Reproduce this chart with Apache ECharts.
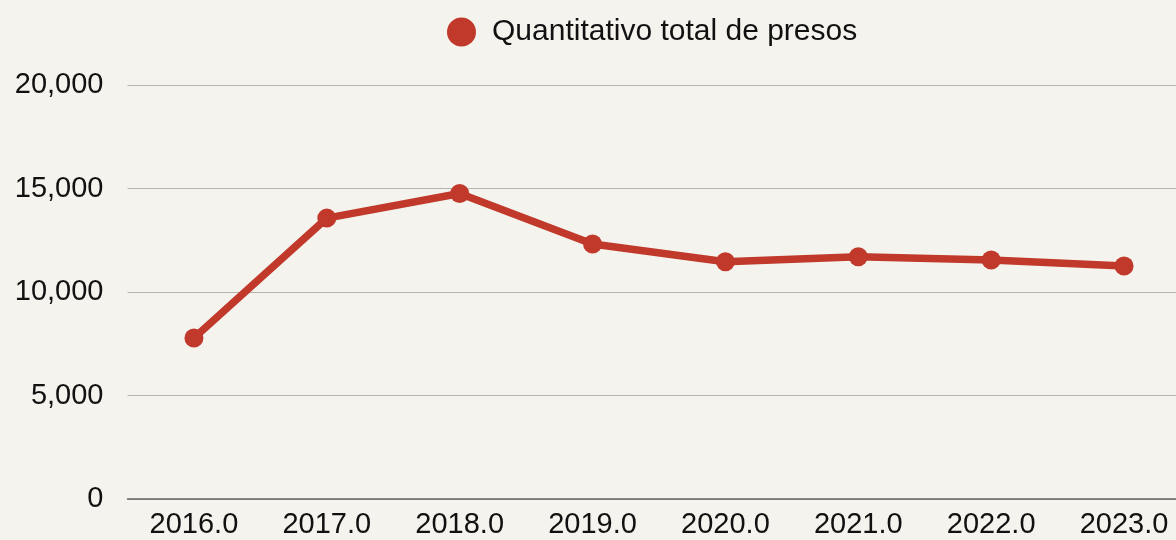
<!DOCTYPE html>
<html>
<head>
<meta charset="utf-8">
<script src="https://cdn.jsdelivr.net/npm/echarts@6/dist/echarts.min.js"></script>
<style>
    html, body {
        margin: 0;
        padding: 0;
        background: #f5f3ee;
        overflow: hidden;
    }
    /* o eixo passa um pouco da borda direita, como no original */
    #chart {
        width: 1191px;
        height: 540px;
    }
</style>
</head>
<body>
<div id="chart"></div>
<script>
// dados
const anos = ["2016.0", "2017.0", "2018.0", "2019.0", "2020.0", "2021.0", "2022.0", "2023.0"];
const totalPresos = [7780, 13570, 14760, 12320, 11460, 11700, 11550, 11260];
const nomeSerie = "Quantitativo total de presos";

const vermelho = "#c0392b";

let chart = echarts.init(document.getElementById("chart"));

let option = {
    backgroundColor: "#f5f3ee",
    textStyle: {
        fontFamily: "Liberation Sans, Arial, sans-serif",
    },
    legend: {
        left: 442,
        top: 12,
        icon: "circle",
        itemWidth: 29,
        itemHeight: 29,
        textStyle: {
            fontSize: 30,
            color: "#111",
            padding: [0, 0, 0, 11],
        },
        data: [nomeSerie],
    },
    grid: {
        left: 127.5,
        right: 0.5,
        top: 85,
        bottom: 41,
        containLabel: false,
    },
    xAxis: {
        type: "category",
        data: anos,
        boundaryGap: true,
        axisLine: {
            lineStyle: { color: "#666", width: 1.5 },
        },
        axisTick: { show: false },
        axisLabel: {
            fontSize: 29,
            color: "#111",
            margin: 11,
        },
    },
    yAxis: {
        type: "value",
        min: 0,
        max: 20000,
        interval: 5000,
        axisLine: { show: false },
        axisTick: { show: false },
        axisLabel: {
            fontSize: 29,
            color: "#111",
            margin: 24,
            formatter: (v) => v.toLocaleString("en-US"),
        },
        splitLine: {
            lineStyle: { color: "#b5b3ae", width: 1.2 },
        },
    },
    series: [
        {
            name: nomeSerie,
            type: "line",
            data: totalPresos,
            symbol: "circle",
            symbolSize: 19,
            itemStyle: { color: vermelho },
            lineStyle: { color: vermelho, width: 7.5 },
            animation: false,
        },
    ],
};

chart.setOption(option);
</script>
</body>
</html>
